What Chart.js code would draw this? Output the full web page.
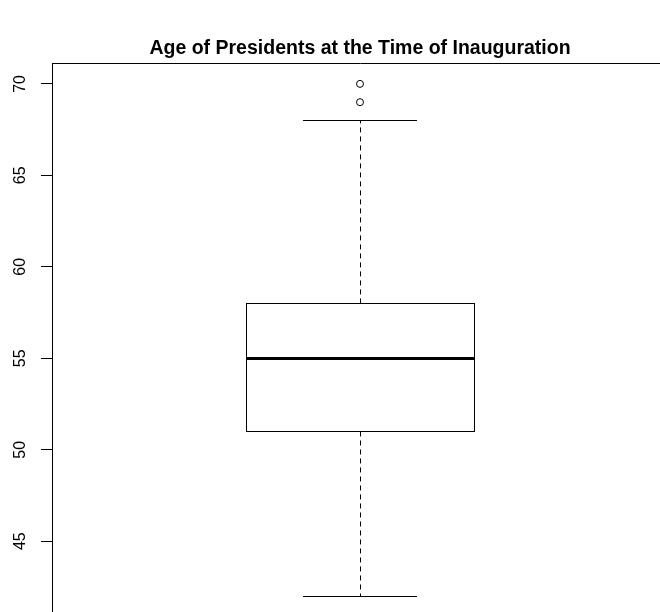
<!DOCTYPE html>
<html>
<head>
<meta charset="utf-8">
<script src="https://cdn.jsdelivr.net/npm/chart.js@4.4.1/dist/chart.umd.min.js"></script>
<style>
html,body{margin:0;padding:0;background:#fff;overflow:hidden;}
#wrap{position:absolute;left:0;top:0;width:700px;height:640px;}
</style>
</head>
<body>
<div id="wrap"><canvas id="c" width="700" height="640"></canvas></div>
<script>
// Data: ages of presidents at inauguration (five-number summary + outliers)
const titleText = 'Age of Presidents at the Time of Inauguration';
const boxStats = [42, 51, 55, 58, 68]; // lower whisker, Q1, median, Q3, upper whisker
const outliers = [69, 70];
const yTicks = [45, 50, 55, 60, 65, 70];
const groupPos = 1;

const boxplotPlugin = {
  id: 'boxplotPlugin',
  afterDatasetsDraw(chart) {
    const ctx = chart.ctx;
    const xs = chart.scales.x, ys = chart.scales.y;
    const [lo, q1, med, q3, hi] = boxStats;
    const xl = xs.getPixelForValue(groupPos - 0.4);
    const xr = xs.getPixelForValue(groupPos + 0.4);
    const xc = xs.getPixelForValue(groupPos);
    const cl = xs.getPixelForValue(groupPos - 0.2);
    const cr = xs.getPixelForValue(groupPos + 0.2);
    const yq1 = ys.getPixelForValue(q1), yq3 = ys.getPixelForValue(q3);
    const ymed = ys.getPixelForValue(med);
    const ylo = ys.getPixelForValue(lo), yhi = ys.getPixelForValue(hi);
    ctx.save();
    ctx.strokeStyle = '#000';
    ctx.lineWidth = 1;
    ctx.setLineDash([5, 4]);
    ctx.beginPath();
    ctx.moveTo(Math.round(xc) + 0.5, yq3); ctx.lineTo(Math.round(xc) + 0.5, yhi);
    ctx.moveTo(Math.round(xc) + 0.5, yq1); ctx.lineTo(Math.round(xc) + 0.5, ylo);
    ctx.stroke();
    ctx.setLineDash([]);
    ctx.beginPath();
    ctx.moveTo(cl, Math.round(yhi) + 0.5); ctx.lineTo(cr, Math.round(yhi) + 0.5);
    ctx.moveTo(cl, Math.round(ylo) + 0.5); ctx.lineTo(cr, Math.round(ylo) + 0.5);
    ctx.stroke();
    ctx.strokeRect(Math.round(xl) + 0.5, Math.round(yq3) + 0.5, Math.round(xr - xl), Math.round(yq1 - yq3));
    ctx.lineWidth = 3;
    ctx.beginPath();
    ctx.moveTo(Math.round(xl), Math.round(ymed) + 0.5); ctx.lineTo(Math.round(xr) + 1, Math.round(ymed) + 0.5);
    ctx.stroke();
    ctx.restore();
  }
};

new Chart(document.getElementById('c'), {
  type: 'scatter',
  data: {
    datasets: [{
      data: outliers.map(v => ({x: groupPos, y: v})),
      pointRadius: 3.5,
      pointBorderWidth: 1,
      pointBorderColor: '#000',
      pointBackgroundColor: '#fff',
      showLine: false
    }]
  },
  options: {
    responsive: false,
    animation: false,
    devicePixelRatio: 1,
    layout: { padding: { left: 0, right: 32, top: 0, bottom: 10 } },
    plugins: {
      legend: { display: false },
      tooltip: { enabled: false },
      title: {
        display: true,
        fullSize: false,
        text: titleText,
        color: '#000',
        font: { family: 'Liberation Sans, Arial, sans-serif', size: 19.5, weight: 'bold', lineHeight: 1.2 },
        padding: { top: 37, bottom: 3 }
      }
    },
    scales: {
      x: {
        type: 'linear',
        min: groupPos - 1.0807,
        max: groupPos + 1.0807,
        display: false
      },
      x2: {
        type: 'linear',
        position: 'top',
        display: true,
        min: 0, max: 1,
        grid: { display: false, drawTicks: false },
        ticks: { display: false },
        border: { display: true, color: '#000', width: 1 },
        afterFit(s) { s.height = 0; }
      },
      y: {
        type: 'linear',
        min: 40.78,
        max: 71.12,
        afterBuildTicks(s) { s.ticks = yTicks.map(v => ({value: v})); },
        afterFit(s) { s.width = 52; },
        grid: { drawOnChartArea: false, drawTicks: true, tickLength: 11, color: '#000', tickWidth: 1 },
        border: { display: true, color: '#000', width: 1 },
        ticks: {
          color: '#000',
          font: { family: 'Liberation Sans, Arial, sans-serif', size: 16 },
          minRotation: 90,
          maxRotation: 90,
          crossAlign: 'center',
          padding: 12,
          callback: v => String(v)
        }
      }
    }
  },
  plugins: [boxplotPlugin]
});
</script>
</body>
</html>
